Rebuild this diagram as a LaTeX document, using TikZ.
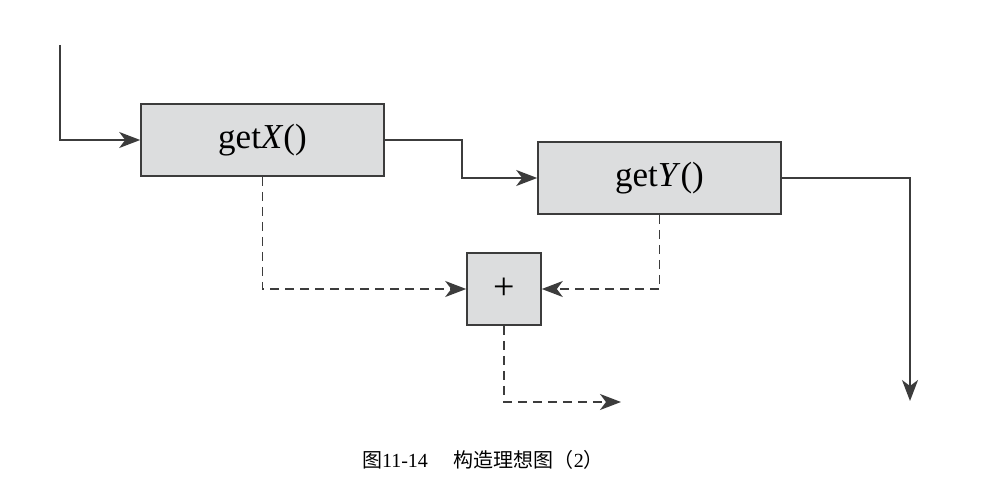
\documentclass[tikz,border=0pt]{standalone}
\usepackage{fontspec}
\setmainfont{Liberation Serif}
\newfontfamily\cjk{Noto Sans CJK SC}
\usetikzlibrary{arrows.meta}
\definecolor{boxfill}{RGB}{220,221,222}
\definecolor{linec}{RGB}{60,60,60}
\tikzset{
  fbox/.style={draw=linec, line width=1.6pt, fill=boxfill, minimum width=243pt, minimum height=72pt, inner sep=0pt, font=\fontsize{35}{35}\selectfont},
  pbox/.style={draw=linec, line width=1.6pt, fill=boxfill, minimum width=74pt, minimum height=72pt, inner sep=0pt, font=\fontsize{38}{38}\selectfont},
  conn/.style={draw=linec, line width=1.6pt, -{Stealth[length=21pt,width=16pt,inset=6pt]}},
  dconn/.style={conn, dash pattern=on 9pt off 6pt},
}
\begin{document}
\begin{tikzpicture}[x=1pt,y=-1pt]
\useasboundingbox (0,0) rectangle (987,481);
\node[fbox] (gx) at (262.5,140) {get\textit{X}()};
\node[fbox] (gy) at (659.5,178) {get\textit{Y}()};
\node[pbox] (pl) at (504,289) {+};
\coordinate (in) at (60,45);
\coordinate (out) at (910,401);
\coordinate (pout) at (621,402);
\draw[conn] (in) |- (gx.west);
\draw[conn] (gx.east) -- (462,140) |- (gy.west);
\draw[conn] (gy.east) -| (out);
\draw[dconn] (gx.south) |- (pl.west);
\draw[dconn] (gy.south) |- (pl.east);
\draw[dconn] (pl.south) |- (pout);
\node[font=\fontsize{20}{20}\selectfont, text=black] (cap) at (483,460) {{\cjk 图}11-14\hspace{1.3em}{\cjk 构造理想图（}2{\cjk ）}};
\end{tikzpicture}
\end{document}
